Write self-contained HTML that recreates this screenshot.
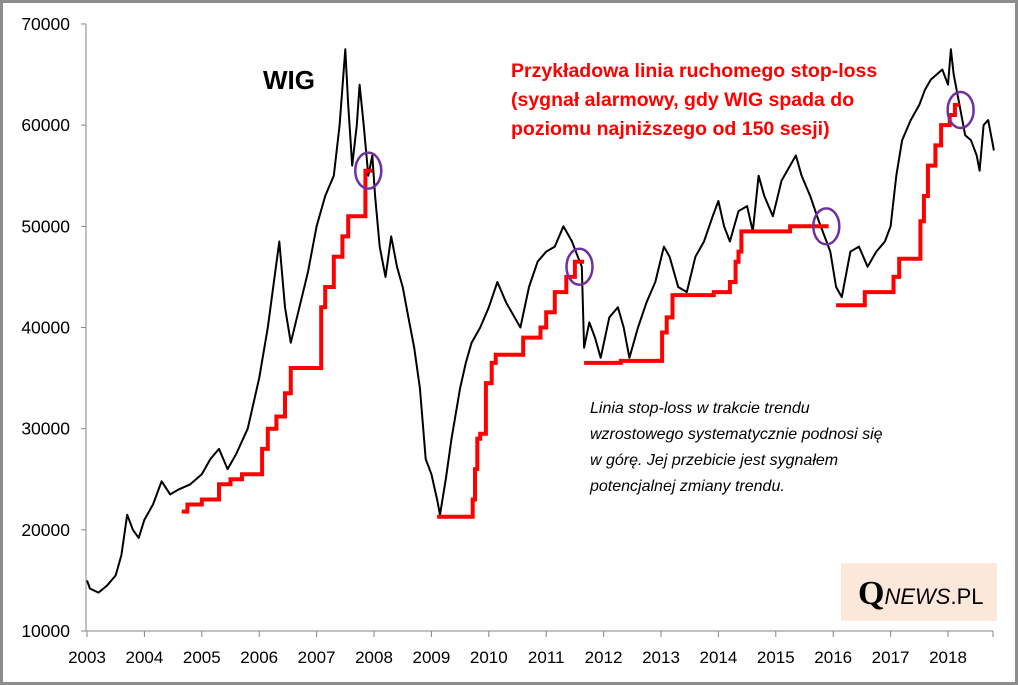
<!DOCTYPE html>
<html><head><meta charset="utf-8"><style>
html,body{margin:0;padding:0;background:#fff}
#wrap{position:relative;width:1012px;height:679px;border:3px solid #8c8c8c;background:#fff;overflow:hidden}
svg{position:absolute;left:-3px;top:-3px}
</style></head><body>
<div id="wrap">
<svg id="chart" width="1018" height="685" font-family="Liberation Sans, sans-serif"></svg>
</div>
<script>
const yTicks=[10000,20000,30000,40000,50000,60000,70000];
const xYears=[2003,2004,2005,2006,2007,2008,2009,2010,2011,2012,2013,2014,2015,2016,2017,2018];
const wigX=[2003.0,2003.05,2003.2,2003.35,2003.5,2003.6,2003.7,2003.8,2003.9,2004.0,2004.15,2004.3,2004.45,2004.6,2004.8,2005.0,2005.15,2005.3,2005.45,2005.6,2005.8,2006.0,2006.15,2006.35,2006.45,2006.55,2006.7,2006.85,2007.0,2007.15,2007.3,2007.4,2007.5,2007.55,2007.62,2007.7,2007.75,2007.82,2007.9,2007.97,2008.02,2008.1,2008.2,2008.3,2008.4,2008.5,2008.6,2008.7,2008.8,2008.9,2009.0,2009.1,2009.15,2009.25,2009.35,2009.5,2009.6,2009.7,2009.85,2010.0,2010.15,2010.3,2010.45,2010.55,2010.7,2010.85,2011.0,2011.15,2011.3,2011.45,2011.55,2011.62,2011.66,2011.75,2011.85,2011.95,2012.1,2012.25,2012.35,2012.45,2012.6,2012.75,2012.9,2013.05,2013.15,2013.3,2013.45,2013.6,2013.75,2013.9,2014.0,2014.1,2014.2,2014.35,2014.5,2014.6,2014.7,2014.8,2014.95,2015.1,2015.25,2015.35,2015.45,2015.6,2015.75,2015.85,2015.95,2016.05,2016.15,2016.3,2016.45,2016.6,2016.75,2016.9,2017.0,2017.1,2017.2,2017.35,2017.5,2017.6,2017.7,2017.8,2017.9,2018.0,2018.05,2018.1,2018.2,2018.3,2018.4,2018.5,2018.55,2018.62,2018.7,2018.8];
const wigV=[15000,14200,13800,14500,15500,17500,21500,20000,19200,21000,22500,24800,23500,24000,24500,25500,27000,28000,26000,27500,30000,35000,40000,48500,42000,38500,42000,45500,50000,53000,55000,60000,67500,62000,56000,60000,64000,60000,55000,57000,53000,48000,45000,49000,46000,44000,41000,38000,34000,27000,25500,23000,21500,25000,29000,34000,36500,38500,40000,42000,44500,42500,41000,40000,44000,46500,47500,48000,50000,48500,47000,46000,38000,40500,39000,37000,41000,42000,40000,37000,40000,42500,44500,48000,47000,44000,43500,47000,48500,51000,52500,50000,48500,51500,52000,49500,55000,53000,51000,54500,56000,57000,55000,53000,50500,49000,47500,44000,43000,47500,48000,46000,47500,48500,50000,55000,58500,60500,62000,63500,64500,65000,65500,64000,67500,65000,62000,59000,58500,57000,55500,60000,60500,57500];
const slX=[2004.65,2004.75,2005.0,2005.3,2005.5,2005.7,2006.05,2006.15,2006.3,2006.45,2006.55,2007.08,2007.15,2007.3,2007.45,2007.55,2007.85,2007.97,null,2009.1,2009.72,2009.76,2009.8,2009.85,2009.95,2010.05,2010.12,2010.2,2010.6,2010.9,2011.0,2011.15,2011.35,2011.5,2011.66,null,2011.66,2012.3,2013.02,2013.1,2013.2,2013.92,2014.2,2014.3,2014.35,2014.4,2015.25,2015.92,null,2016.05,2016.55,2017.05,2017.15,2017.52,2017.58,2017.65,2017.78,2017.88,2018.03,2018.12,2018.2];
const slV=[21800,22500,23000,24500,25000,25500,28000,30000,31200,33500,36000,42000,44000,47000,49000,51000,55500,55500,null,21300,23000,26000,29000,29500,34500,36500,37300,37300,39000,40000,41500,43500,45000,46500,46500,null,36500,36700,39500,41000,43200,43500,44500,46500,47500,49500,50000,50000,null,42200,43500,45000,46800,50500,53000,56000,58000,60000,61000,62000,62000];
const circX=[2007.9,2011.58,2015.88,2018.22];
const circV=[55500,46000,50000,61500];

const svg=document.getElementById('chart');const NS='http://www.w3.org/2000/svg';
const X=y=>87+(y-2003)*57.4;const Y=v=>631-(v-10000)/10000*101.17;
function el(t,a,p){const e=document.createElementNS(NS,t);for(const k in a)e.setAttribute(k,a[k]);(p||svg).appendChild(e);return e;}
let e=el('line',{x1:86,y1:24,x2:86,y2:631,stroke:'#868686','stroke-width':1});

e=el('line',{x1:86,y1:631,x2:993,y2:631,stroke:'#868686','stroke-width':1});

yTicks.forEach(v=>{el('line',{x1:81,x2:86,y1:Y(v),y2:Y(v),stroke:'#868686'});
 const t=el('text',{x:70,y:Y(v)+6,'text-anchor':'end','font-size':17.5,fill:'#000'});t.textContent=v;
 });
xYears.forEach(v=>{el('line',{x1:X(v),x2:X(v),y1:631,y2:637,stroke:'#868686'});
 const t=el('text',{x:X(v),y:663,'text-anchor':'middle','font-size':17,fill:'#000'});t.textContent=v;
 });
el('line',{x1:993,x2:993,y1:631,y2:637,stroke:'#868686'});
let d='';wigX.forEach((x,i)=>{d+=(i?'L':'M')+X(x).toFixed(1)+','+Y(wigV[i]).toFixed(1);});
e=el('path',{d:d,fill:'none',stroke:'#000','stroke-width':2,'stroke-linejoin':'round'});

d='';let start=true;slX.forEach((x,i)=>{if(x===null){start=true;return;}
 if(start){d+='M'+X(x).toFixed(1)+','+Y(slV[i]).toFixed(1);start=false;}
 else{d+='H'+X(x).toFixed(1)+'V'+Y(slV[i]).toFixed(1);}});
e=el('path',{d:d,fill:'none',stroke:'#ff0000','stroke-width':4});

circX.forEach((x,i)=>{const c=el('ellipse',{cx:X(x),cy:Y(circV[i]),rx:13,ry:18,fill:'none',stroke:'#7030a0','stroke-width':2.5});
 });
function txt(s,a,name){const t=el('text',a);t.textContent=s;return t;}
txt('WIG',{x:263,y:89,'font-size':26,'font-weight':'bold'},'wig-label');
['Przykładowa linia ruchomego stop-loss','(sygnał alarmowy, gdy WIG spada do','poziomu najniższego od 150 sesji)'].forEach((s,i)=>
 txt(s,{x:511,y:77+i*29,'font-size':19.5,'font-weight':'bold',fill:'#ff0000'},'stop-loss-title'));
['Linia stop-loss  w trakcie trendu','wzrostowego systematycznie podnosi się','w górę. Jej przebicie jest sygnałem','potencjalnej zmiany trendu.'].forEach((s,i)=>
 txt(s,{x:590,y:413+i*26,'font-size':16,'font-style':'italic'},'annotation-text'));
e=el('rect',{x:841,y:563,width:156,height:58,fill:'#fce8da'});

const lg=el('text',{x:858,y:604,fill:'#000'});
const s1=el('tspan',{'font-family':'Liberation Serif, serif','font-weight':'bold','font-size':34},lg);s1.textContent='Q';
const s2=el('tspan',{'font-style':'italic','font-size':22},lg);s2.textContent='NEWS';
const s3=el('tspan',{'font-size':22},lg);s3.textContent='.PL';
</script>
</body></html>
